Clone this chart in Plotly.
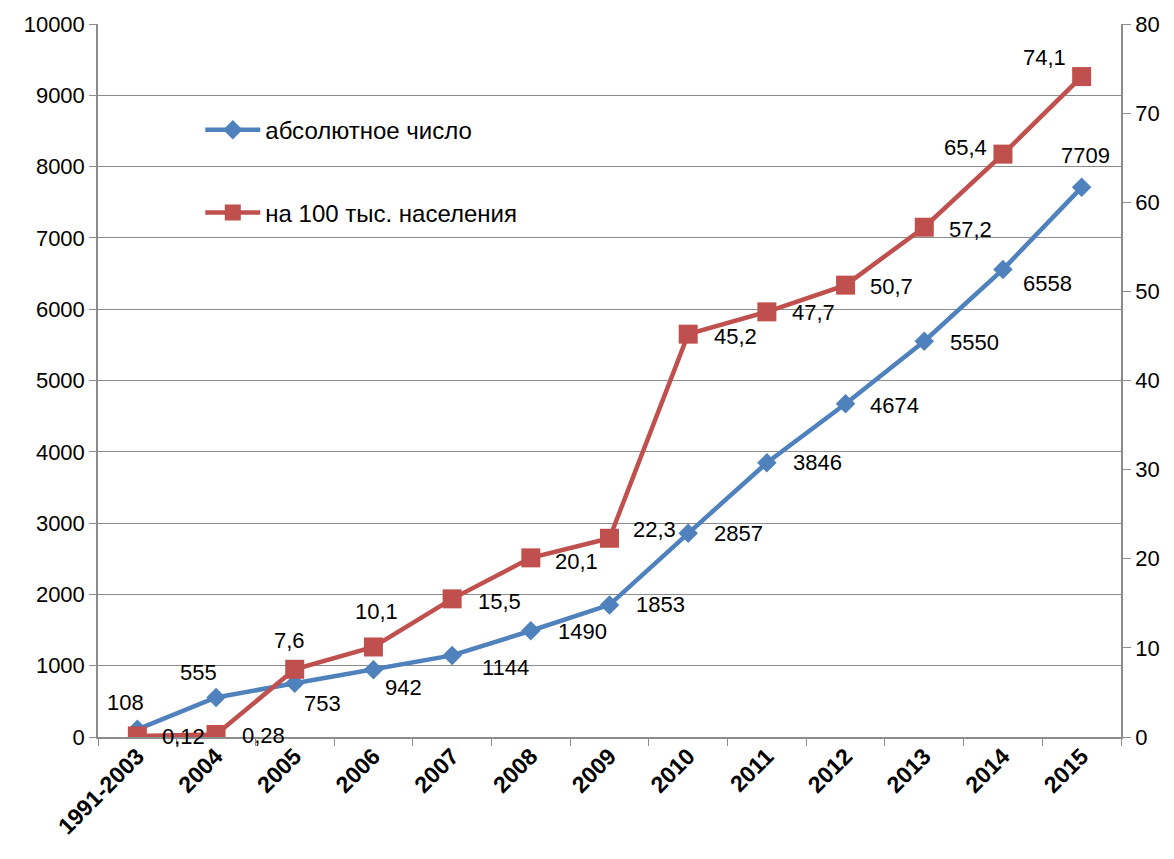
import plotly.graph_objects as go

# Categories and series
years = ["1991-2003", "2004", "2005", "2006", "2007", "2008", "2009",
         "2010", "2011", "2012", "2013", "2014", "2015"]
absolute = [108, 555, 753, 942, 1144, 1490, 1853, 2857, 3846, 4674, 5550, 6558, 7709]
per_100k = [0.12, 0.28, 7.6, 10.1, 15.5, 20.1, 22.3, 45.2, 47.7, 50.7, 57.2, 65.4, 74.1]

left_ticks = list(range(0, 10001, 1000))
left_tick_text = [str(t) for t in left_ticks]
right_ticks = list(range(0, 81, 10))

# Label offsets in pixels (dx right, dy down) from each marker
abs_offsets = [(-12, -27), (-18, -25), (28, 20), (30, 18), (53, 12), (52, 1), (51, 0),
               (50, 0), (51, 0), (49, 2), (50, 1), (45, 14), (4, -32)]
rate_offsets = [(46, 1), (47, 1), (-5, -29), (3, -35), (47, 3), (46, 4), (45, -9),
                (47, 2), (47, 1), (46, 1), (46, 2), (-37, -7), (-37, -19)]

BLUE = "#4F81BD"
RED = "#C0504D"
GRID = "#8C8C8C"
FONT = "Liberation Sans"

fig = go.Figure()
fig.add_trace(go.Scatter(
    x=years, y=absolute, name="абсолютное число", mode="lines+markers",
    line=dict(color=BLUE, width=4.5),
    marker=dict(symbol="diamond", size=15, color=BLUE),
    legend="legend", showlegend=True,
))
fig.add_trace(go.Scatter(
    x=years, y=per_100k, name="на 100 тыс. населения", mode="lines+markers",
    line=dict(color=RED, width=4.5),
    marker=dict(symbol="square", size=19, color=RED),
    yaxis="y2", legend="legend2", showlegend=True,
))

def fmt(v):
    return str(v).replace(".", ",")

# Category positions are given by index so year-like names are not read as numbers
annotations = []
for i, (v, (dx, dy)) in enumerate(zip(absolute, abs_offsets)):
    annotations.append(dict(x=i, y=v, xref="x", yref="y", text=fmt(v),
                            showarrow=False, xshift=dx, yshift=-dy,
                            font=dict(family=FONT, size=22, color="black")))
for i, (v, (dx, dy)) in enumerate(zip(per_100k, rate_offsets)):
    annotations.append(dict(x=i, y=v, xref="x", yref="y2", text=fmt(v),
                            showarrow=False, xshift=dx, yshift=-dy,
                            font=dict(family=FONT, size=22, color="black")))

fig.update_layout(
    width=1174, height=859, autosize=False,
    margin=dict(l=98, r=53, t=24, b=122),
    paper_bgcolor="white", plot_bgcolor="white",
    showlegend=True,
    font=dict(family=FONT, size=22, color="black"),
    xaxis=dict(
        type="category", range=[-0.5, 12.5],
        tickangle=-45, tickson="boundaries", ticks="outside", ticklen=7,
        ticklabelstandoff=-5,
        tickcolor=GRID, showline=True, linecolor=GRID, linewidth=1.5,
        showgrid=False, tickfont=dict(family=FONT, size=23, color="black", weight="bold"),
    ),
    yaxis=dict(
        range=[0, 10000], tickvals=left_ticks, ticktext=left_tick_text,
        ticks="outside", ticklen=7,
        tickcolor=GRID, showline=True, linecolor=GRID, linewidth=1.5,
        showgrid=True, gridcolor=GRID, gridwidth=1.2, zeroline=False,
        tickfont=dict(family=FONT, size=22, color="black"),
    ),
    yaxis2=dict(
        range=[0, 80], tickvals=right_ticks, overlaying="y", side="right",
        ticks="outside", ticklen=8, tickcolor=GRID, showline=True,
        linecolor=GRID, linewidth=1.5, showgrid=False, zeroline=False,
        tickfont=dict(family=FONT, size=22, color="black"),
    ),
    legend=dict(x=0.1, y=0.851, xanchor="left", yanchor="middle",
                bgcolor="rgba(0,0,0,0)", itemwidth=55,
                font=dict(family=FONT, size=24, color="black")),
    legend2=dict(x=0.1, y=0.735, xanchor="left", yanchor="middle",
                 bgcolor="rgba(0,0,0,0)", itemwidth=55,
                 font=dict(family=FONT, size=24, color="black")),
    annotations=annotations,
)

fig.write_html("out.html")
